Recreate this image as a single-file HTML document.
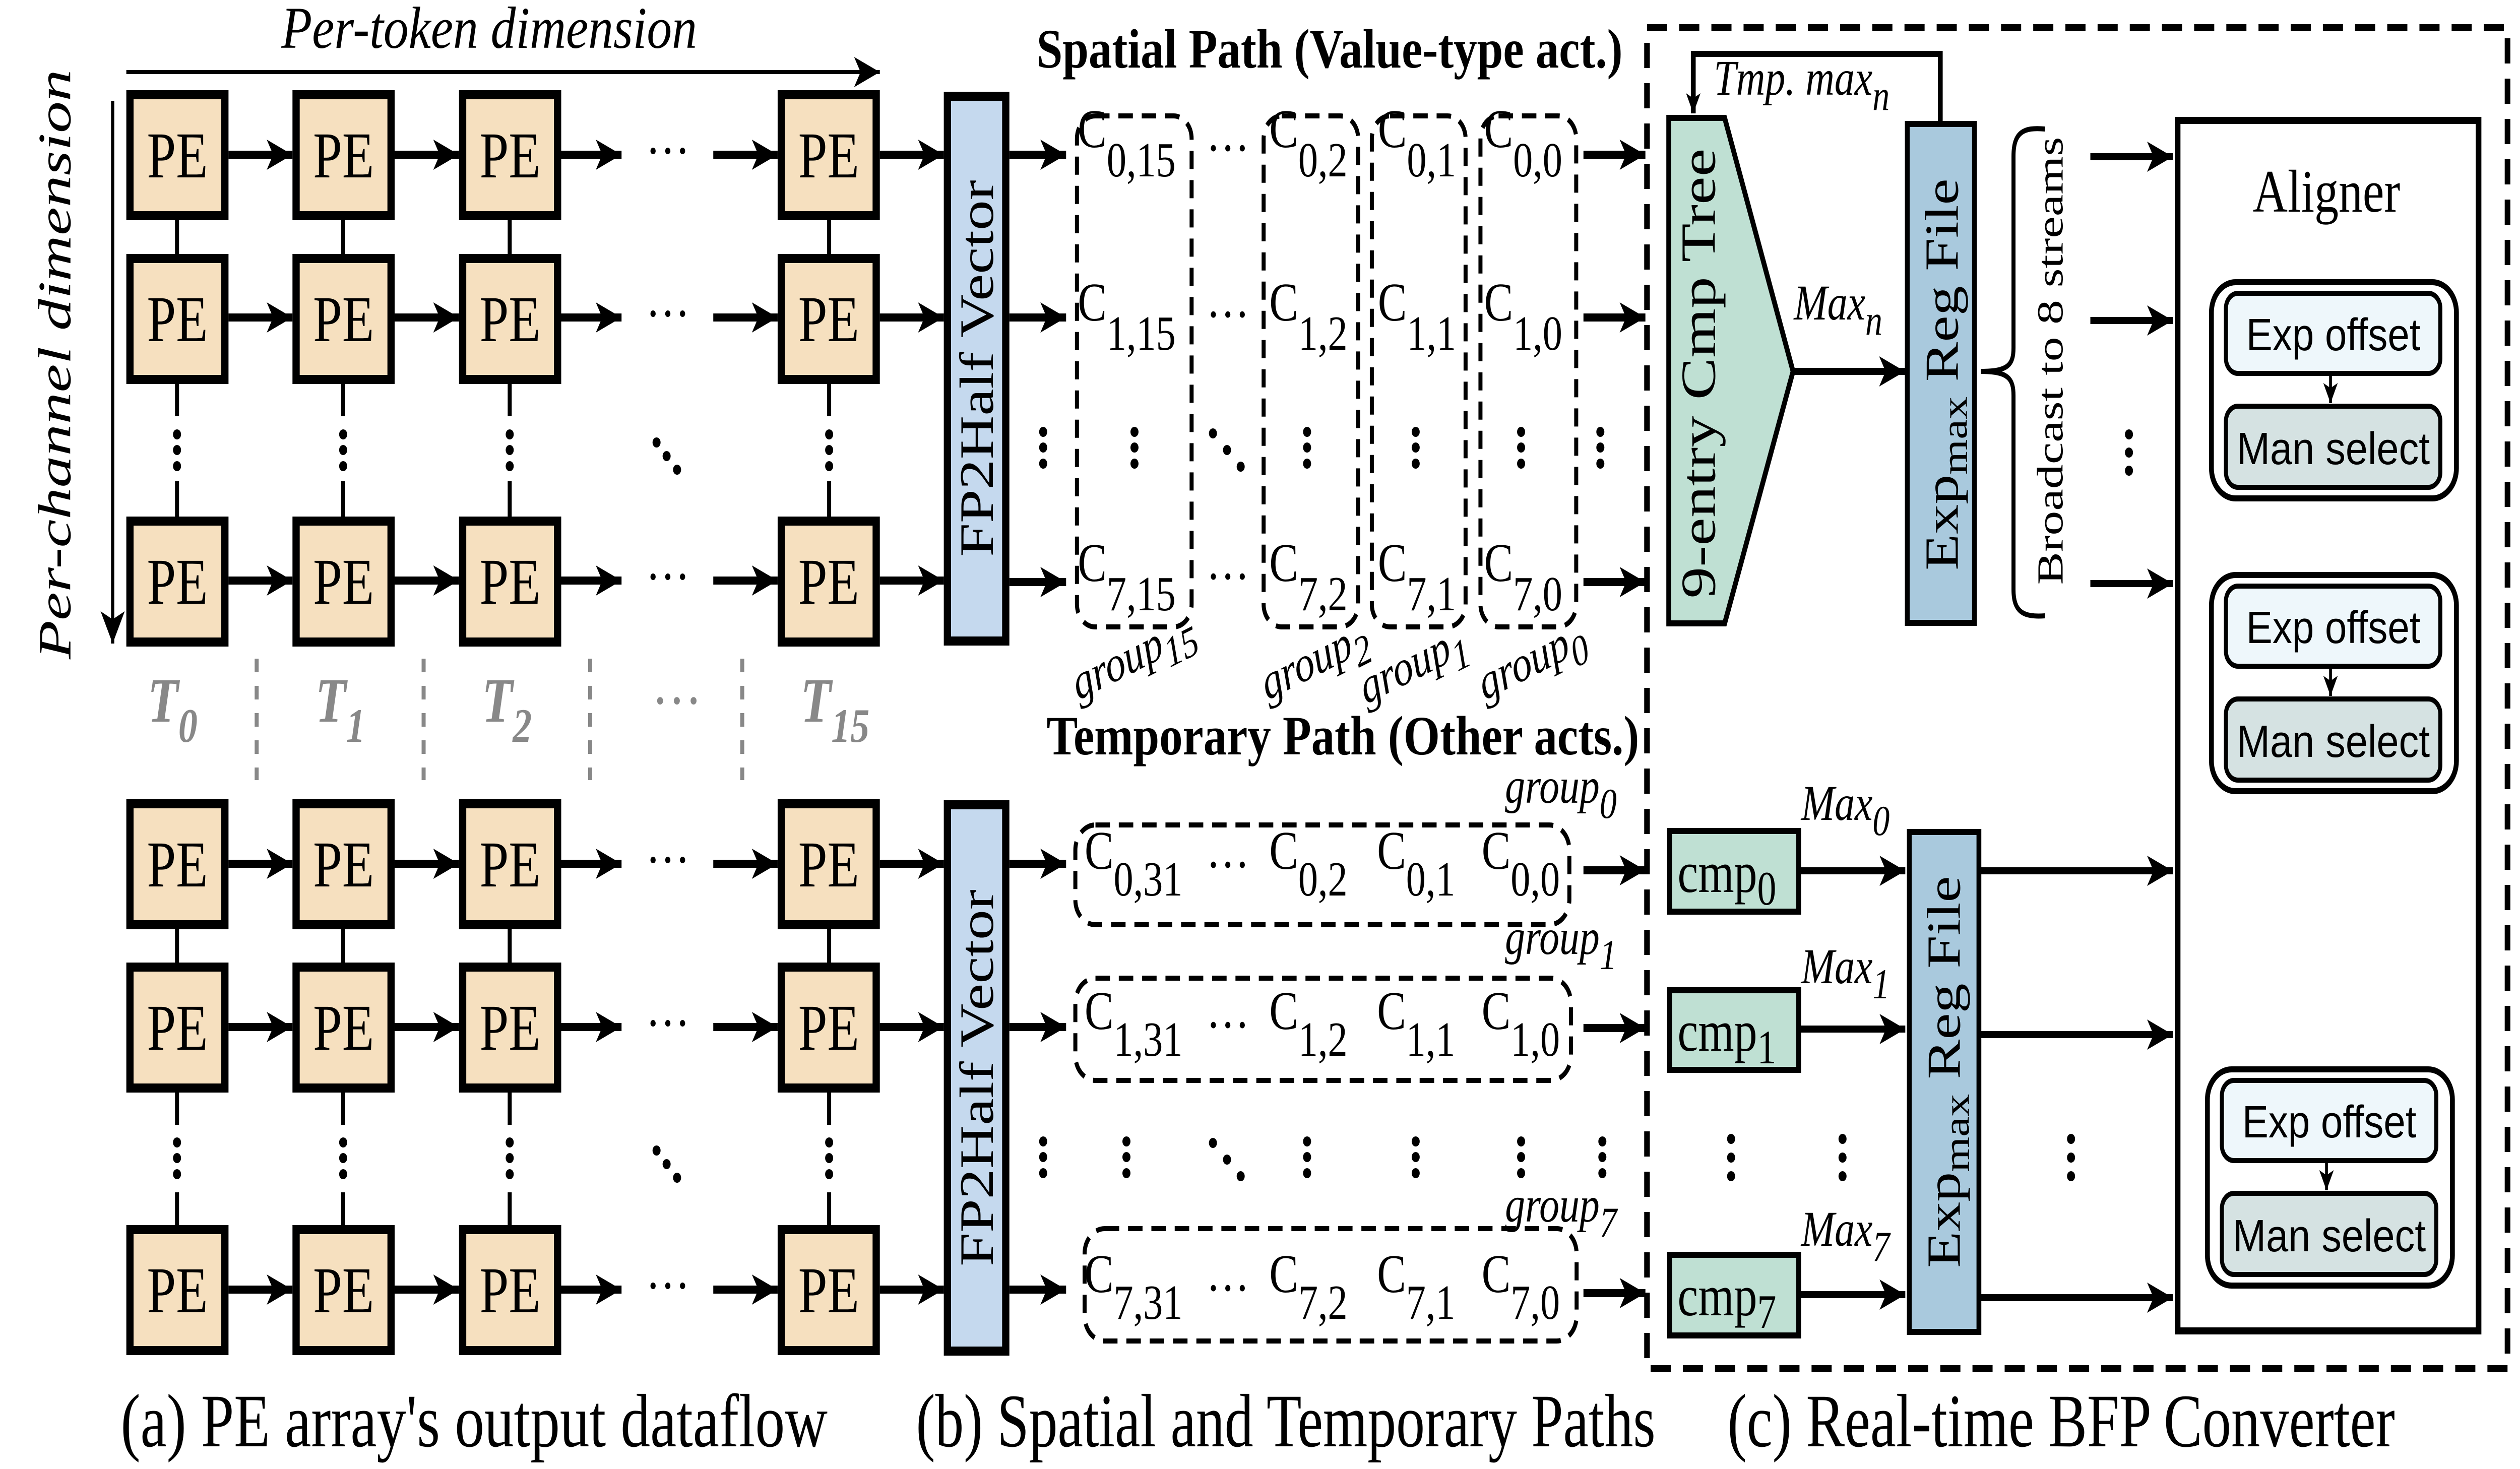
<!DOCTYPE html>
<html><head><meta charset="utf-8"><style>html,body{margin:0;padding:0;background:#fff;overflow:hidden;width:100%;height:100%}svg{display:block;position:fixed;left:0;top:0;width:100vw;height:100vh}text{font-family:"Liberation Serif","Times New Roman",serif}.sans{font-family:"Liberation Sans",Arial,sans-serif}</style></head><body>
<svg xmlns="http://www.w3.org/2000/svg" width="6264" height="2915" viewBox="0 0 6264 2915" preserveAspectRatio="none">
<defs>
<marker id="a" markerUnits="userSpaceOnUse" markerWidth="80" markerHeight="80" refX="64" refY="32" orient="auto"><path d="M0,2 L64,32 L0,62 L16,32z" fill="#000"/></marker>
<marker id="s" markerUnits="userSpaceOnUse" markerWidth="50" markerHeight="50" refX="40" refY="20" orient="auto"><path d="M0,2 L40,20 L0,38 L10,20z" fill="#000"/></marker>
<g id="ve"><circle cx="0" cy="862" r="10"/><circle cx="0" cy="893" r="10"/><circle cx="0" cy="925" r="10"/></g>
</defs>
<rect width="6264" height="2915" fill="#fff"/>

<text x="1216" y="95" font-size="118" font-style="italic" text-anchor="middle" textLength="1033" lengthAdjust="spacingAndGlyphs">Per-token dimension</text>
<line x1="314" y1="143" x2="2187" y2="143" stroke="#000" stroke-width="8" marker-end="url(#a)"/>
<text transform="translate(175,723) rotate(-90)" font-size="115" font-style="italic" text-anchor="middle" textLength="1170" lengthAdjust="spacingAndGlyphs">Per-channel dimension</text>
<line x1="280" y1="200" x2="280" y2="1277" stroke="#000" stroke-width="8" marker-end="url(#a)"/>

<g stroke="#000" stroke-width="10">
<path d="M440,436V505M853,436V505M1267,436V505M2061,436V505 M440,761V826M853,761V826M1267,761V826M2061,761V826 M440,955V1025M853,955V1025M1267,955V1025M2061,955V1025"/>
<path d="M440,1843V1910M853,1843V1910M1267,1843V1910M2061,1843V1910 M440,2167V2232M853,2167V2232M1267,2167V2232M2061,2167V2232 M440,2366V2431M853,2366V2431M1267,2366V2431M2061,2366V2431"/>
</g>
<g fill="#000">
<use href="#ve" x="440"/><use href="#ve" x="853"/><use href="#ve" x="1267"/><use href="#ve" x="2061"/>
<use href="#ve" x="440" y="1405"/><use href="#ve" x="853" y="1405"/><use href="#ve" x="1267" y="1405"/><use href="#ve" x="2061" y="1405"/>
<circle cx="1632" cy="878" r="10"/><circle cx="1657" cy="905" r="10"/><circle cx="1683" cy="932" r="10"/>
<circle cx="1632" cy="2283" r="10"/><circle cx="1657" cy="2310" r="10"/><circle cx="1683" cy="2337" r="10"/>
</g>

<g fill="#f6e0bf" stroke="#000" stroke-width="18">
<rect x="323" y="188" width="236" height="240"/><rect x="736" y="188" width="236" height="240"/><rect x="1150" y="188" width="236" height="240"/><rect x="1942" y="188" width="236" height="240"/>
<rect x="323" y="513" width="236" height="240"/><rect x="736" y="513" width="236" height="240"/><rect x="1150" y="513" width="236" height="240"/><rect x="1942" y="513" width="236" height="240"/>
<rect x="323" y="1034" width="236" height="240"/><rect x="736" y="1034" width="236" height="240"/><rect x="1150" y="1034" width="236" height="240"/><rect x="1942" y="1034" width="236" height="240"/>
<rect x="323" y="1595" width="236" height="240"/><rect x="736" y="1595" width="236" height="240"/><rect x="1150" y="1595" width="236" height="240"/><rect x="1942" y="1595" width="236" height="240"/>
<rect x="323" y="1919" width="236" height="240"/><rect x="736" y="1919" width="236" height="240"/><rect x="1150" y="1919" width="236" height="240"/><rect x="1942" y="1919" width="236" height="240"/>
<rect x="323" y="2440" width="236" height="240"/><rect x="736" y="2440" width="236" height="240"/><rect x="1150" y="2440" width="236" height="240"/><rect x="1942" y="2440" width="236" height="240"/>
</g>
<g font-size="130" text-anchor="middle">
<text x="441" y="352">PE</text><text x="854" y="352">PE</text><text x="1268" y="352">PE</text><text x="2060" y="352">PE</text>
<text x="441" y="677">PE</text><text x="854" y="677">PE</text><text x="1268" y="677">PE</text><text x="2060" y="677">PE</text>
<text x="441" y="1198">PE</text><text x="854" y="1198">PE</text><text x="1268" y="1198">PE</text><text x="2060" y="1198">PE</text>
<text x="441" y="1759">PE</text><text x="854" y="1759">PE</text><text x="1268" y="1759">PE</text><text x="2060" y="1759">PE</text>
<text x="441" y="2083">PE</text><text x="854" y="2083">PE</text><text x="1268" y="2083">PE</text><text x="2060" y="2083">PE</text>
<text x="441" y="2604">PE</text><text x="854" y="2604">PE</text><text x="1268" y="2604">PE</text><text x="2060" y="2604">PE</text>
</g>
<g stroke="#000" stroke-width="16" marker-end="url(#a)">
<path d="M568,307H727"/><path d="M981,307H1141"/><path d="M1395,307H1545"/><path d="M1773,307H1933"/><path d="M2187,307H2346"/>
<path d="M568,630H727"/><path d="M981,630H1141"/><path d="M1395,630H1545"/><path d="M1773,630H1933"/><path d="M2187,630H2346"/>
<path d="M568,1152H727"/><path d="M981,1152H1141"/><path d="M1395,1152H1545"/><path d="M1773,1152H1933"/><path d="M2187,1152H2346"/>
<path d="M568,1714H727"/><path d="M981,1714H1141"/><path d="M1395,1714H1545"/><path d="M1773,1714H1933"/><path d="M2187,1714H2346"/>
<path d="M568,2038H727"/><path d="M981,2038H1141"/><path d="M1395,2038H1545"/><path d="M1773,2038H1933"/><path d="M2187,2038H2346"/>
<path d="M568,2559H727"/><path d="M981,2559H1141"/><path d="M1395,2559H1545"/><path d="M1773,2559H1933"/><path d="M2187,2559H2346"/>
</g>
<g font-size="110" text-anchor="middle">
<text x="1660" y="336">···</text><text x="1660" y="659">···</text><text x="1660" y="1181">···</text>
<text x="1660" y="1743">···</text><text x="1660" y="2067">···</text><text x="1660" y="2588">···</text>
</g>
<g stroke="#888" stroke-width="10" stroke-dasharray="27 27"><path d="M638,1307V1548M1053,1307V1548M1467,1307V1548M1845,1307V1548"/></g>
<g fill="#888" font-size="125" font-style="italic" font-weight="bold">
<text x="367" y="1432">T<tspan font-size="95" dy="40">0</tspan></text>
<text x="784" y="1432">T<tspan font-size="95" dy="40">1</tspan></text>
<text x="1198" y="1432">T<tspan font-size="95" dy="40">2</tspan></text>
<text x="1620" y="1432" font-style="normal" font-weight="normal">···</text>
<text x="1990" y="1432">T<tspan font-size="95" dy="40">15</tspan></text>
</g>

<g fill="#c5d9ee" stroke="#000" stroke-width="18">
<rect x="2355" y="191" width="145" height="1081"/>
<rect x="2355" y="1597" width="145" height="1084"/>
</g>
<text transform="translate(2428,731) rotate(-90)" font-size="120" text-anchor="middle" dominant-baseline="central">FP2Half Vector</text>
<text transform="translate(2428,2139) rotate(-90)" font-size="120" text-anchor="middle" dominant-baseline="central">FP2Half Vector</text>
<g stroke="#000" stroke-width="16" marker-end="url(#a)">
<path d="M2509,307H2650"/><path d="M2509,630H2650"/><path d="M2509,1155H2650"/>
<path d="M2509,1714H2650"/><path d="M2509,2038H2650"/><path d="M2509,2559H2650"/>
<path d="M3936,307H4090"/><path d="M3936,630H4090"/><path d="M3936,1155H4090"/>
<path d="M3936,1727H4090"/><path d="M3936,2040H4090"/><path d="M3936,2566H4090"/>
</g>
<text x="3305" y="134" font-size="110" font-weight="bold" text-anchor="middle" textLength="1457" lengthAdjust="spacingAndGlyphs">Spatial Path (Value-type act.)</text>
<text x="3338" y="1497" font-size="110" font-weight="bold" text-anchor="middle" textLength="1473" lengthAdjust="spacingAndGlyphs">Temporary Path (Other acts.)</text>
<g fill="none" stroke="#000" stroke-width="10" stroke-dasharray="36 22">
<rect x="2677" y="230" width="285" height="1014" rx="45"/>
<rect x="3141" y="230" width="235" height="1014" rx="45"/>
<rect x="3410" y="230" width="233" height="1014" rx="45"/>
<rect x="3680" y="230" width="238" height="1014" rx="45"/>
<rect x="2673" y="1637" width="1228" height="198" rx="50"/>
<rect x="2673" y="1941" width="1232" height="203" rx="50"/>
<rect x="2696" y="2438" width="1223" height="223" rx="50"/>
</g>
<g font-size="108">
<text x="2679" y="292">C<tspan font-size="98" dy="58">0,15</tspan></text>
<text x="3155" y="292">C<tspan font-size="98" dy="58">0,2</tspan></text>
<text x="3425" y="292">C<tspan font-size="98" dy="58">0,1</tspan></text>
<text x="3689" y="292">C<tspan font-size="98" dy="58">0,0</tspan></text>
<text x="2679" y="636">C<tspan font-size="98" dy="58">1,15</tspan></text>
<text x="3155" y="636">C<tspan font-size="98" dy="58">1,2</tspan></text>
<text x="3425" y="636">C<tspan font-size="98" dy="58">1,1</tspan></text>
<text x="3689" y="636">C<tspan font-size="98" dy="58">1,0</tspan></text>
<text x="2679" y="1153">C<tspan font-size="98" dy="58">7,15</tspan></text>
<text x="3155" y="1153">C<tspan font-size="98" dy="58">7,2</tspan></text>
<text x="3425" y="1153">C<tspan font-size="98" dy="58">7,1</tspan></text>
<text x="3689" y="1153">C<tspan font-size="98" dy="58">7,0</tspan></text>
<text x="3052" y="330" text-anchor="middle">···</text><text x="3052" y="660" text-anchor="middle">···</text><text x="3052" y="1180" text-anchor="middle">···</text>
<text x="2696" y="1724">C<tspan font-size="98" dy="53">0,31</tspan></text>
<text x="3155" y="1724">C<tspan font-size="98" dy="53">0,2</tspan></text>
<text x="3423" y="1724">C<tspan font-size="98" dy="53">0,1</tspan></text>
<text x="3683" y="1724">C<tspan font-size="98" dy="53">0,0</tspan></text>
<text x="2696" y="2042">C<tspan font-size="98" dy="53">1,31</tspan></text>
<text x="3155" y="2042">C<tspan font-size="98" dy="53">1,2</tspan></text>
<text x="3423" y="2042">C<tspan font-size="98" dy="53">1,1</tspan></text>
<text x="3683" y="2042">C<tspan font-size="98" dy="53">1,0</tspan></text>
<text x="2696" y="2564">C<tspan font-size="98" dy="53">7,31</tspan></text>
<text x="3155" y="2564">C<tspan font-size="98" dy="53">7,2</tspan></text>
<text x="3423" y="2564">C<tspan font-size="98" dy="53">7,1</tspan></text>
<text x="3683" y="2564">C<tspan font-size="98" dy="53">7,0</tspan></text>
<text x="3052" y="1752" text-anchor="middle">···</text><text x="3052" y="2070" text-anchor="middle">···</text><text x="3052" y="2592" text-anchor="middle">···</text>
</g>
<g fill="#000">
<use href="#ve" x="2593" y="-5"/><use href="#ve" x="2820" y="-5"/><use href="#ve" x="3249" y="-5"/><use href="#ve" x="3519" y="-5"/><use href="#ve" x="3781" y="-5"/><use href="#ve" x="3978" y="-5"/>
<circle cx="3015" cy="860" r="10"/><circle cx="3050" cy="893" r="10"/><circle cx="3084" cy="926" r="10"/>
<use href="#ve" x="2593" y="1403"/><use href="#ve" x="2800" y="1403"/><use href="#ve" x="3249" y="1403"/><use href="#ve" x="3519" y="1403"/><use href="#ve" x="3781" y="1403"/><use href="#ve" x="3983" y="1403"/>
<circle cx="3015" cy="2268" r="10"/><circle cx="3050" cy="2301" r="10"/><circle cx="3084" cy="2334" r="10"/>
</g>
<g font-size="100" font-style="italic">
<text transform="translate(2680,1390) rotate(-22)">group<tspan font-size="85" dy="25">15</tspan></text>
<text transform="translate(3150,1390) rotate(-22)">group<tspan font-size="85" dy="25">2</tspan></text>
<text transform="translate(3395,1398) rotate(-22)">group<tspan font-size="85" dy="25">1</tspan></text>
<text transform="translate(3690,1390) rotate(-22)">group<tspan font-size="85" dy="25">0</tspan></text>
<text x="3741" y="1593">group<tspan font-size="85" dy="30">0</tspan></text>
<text x="3741" y="1893">group<tspan font-size="85" dy="30">1</tspan></text>
<text x="3741" y="2424">group<tspan font-size="85" dy="30">7</tspan></text>
</g>

<rect x="4094" y="55" width="2139" height="2661" fill="none" stroke="#000" stroke-width="14" stroke-dasharray="50 30"/>
<path d="M4148,234 H4287 L4457,737 L4287,1237 H4148 Z" fill="#bfe0d3" stroke="#000" stroke-width="12"/>
<text transform="translate(4222,741) rotate(-90)" font-size="122" text-anchor="middle" dominant-baseline="central" textLength="893" lengthAdjust="spacingAndGlyphs">9-entry Cmp Tree</text>
<rect x="4741" y="246" width="167" height="990" fill="#a9c9dd" stroke="#000" stroke-width="12"/>
<text transform="translate(4828,743) rotate(-90)" font-size="118" text-anchor="middle" dominant-baseline="central">Exp<tspan font-size="90" dy="30">max</tspan><tspan dy="-30"> Reg File</tspan></text>
<path d="M4823,246 V107 H4209 V225" fill="none" stroke="#000" stroke-width="12" marker-end="url(#s)"/>
<text x="4260" y="188" font-size="100" font-style="italic">Tmp. max<tspan font-size="85" dy="30">n</tspan></text>
<line x1="4459" y1="737" x2="4735" y2="737" stroke="#000" stroke-width="14" marker-end="url(#a)"/>
<text x="4459" y="634" font-size="100" font-style="italic">Max<tspan font-size="85" dy="30">n</tspan></text>
<path d="M5083,256 C5030,252 5005,262 5005,310 V690 C5005,725 4990,737 4924,737 C4990,737 5005,750 5005,785 V1170 C5005,1215 5030,1225 5083,1222" fill="none" stroke="#000" stroke-width="10"/>
<text transform="translate(5097,716) rotate(-90)" font-size="92" text-anchor="middle" dominant-baseline="central" textLength="889" lengthAdjust="spacingAndGlyphs">Broadcast to 8 streams</text>
<g stroke="#000" stroke-width="14" marker-end="url(#a)">
<path d="M5196,311H5401"/><path d="M5196,636H5401"/><path d="M5196,1158H5401"/>
<path d="M4474,1728H4736"/><path d="M4474,2042H4736"/><path d="M4474,2569H4736"/>
<path d="M4924,1728H5401"/><path d="M4924,2053H5401"/><path d="M4924,2575H5401"/>
</g>
<g fill="#000"><circle cx="5292" cy="862" r="10"/><circle cx="5292" cy="898" r="10"/><circle cx="5292" cy="934" r="10"/>
<circle cx="4303" cy="2260" r="10"/><circle cx="4303" cy="2297" r="10"/><circle cx="4303" cy="2334" r="10"/>
<circle cx="4580" cy="2260" r="10"/><circle cx="4580" cy="2297" r="10"/><circle cx="4580" cy="2334" r="10"/>
<circle cx="5148" cy="2260" r="10"/><circle cx="5148" cy="2297" r="10"/><circle cx="5148" cy="2334" r="10"/>
<circle cx="5801" cy="1772" r="10"/><circle cx="5801" cy="1842" r="10"/><circle cx="5801" cy="1912" r="10"/></g>
<text x="5921" y="1926" font-size="105">×</text><text x="5985" y="1926" font-size="125" font-weight="bold" font-style="italic">8</text>
<g fill="#bfe0d3" stroke="#000" stroke-width="12">
<rect x="4150" y="1649" width="321" height="160"/><rect x="4150" y="1965" width="321" height="158"/><rect x="4150" y="2490" width="321" height="160"/>
</g>
<g font-size="115">
<text x="4170" y="1770">cmp<tspan font-size="95" dy="25">0</tspan></text>
<text x="4170" y="2085">cmp<tspan font-size="95" dy="25">1</tspan></text>
<text x="4170" y="2610">cmp<tspan font-size="95" dy="25">7</tspan></text>
</g>
<g font-size="100" font-style="italic">
<text x="4477" y="1627">Max<tspan font-size="85" dy="30">0</tspan></text>
<text x="4477" y="1951">Max<tspan font-size="85" dy="30">1</tspan></text>
<text x="4477" y="2472">Max<tspan font-size="85" dy="30">7</tspan></text>
</g>
<rect x="4746" y="1651" width="173" height="992" fill="#a9c9dd" stroke="#000" stroke-width="12"/>
<text transform="translate(4833,2127) rotate(-90)" font-size="118" text-anchor="middle" dominant-baseline="central">Exp<tspan font-size="90" dy="30">max</tspan><tspan dy="-30"> Reg File</tspan></text>

<rect x="5413" y="239" width="748" height="2402" fill="#fff" stroke="#000" stroke-width="14"/>
<text x="5783" y="420" font-size="120" text-anchor="middle">Aligner</text>
<g id="al">
<rect x="5497" y="560" width="609" height="429" rx="60" fill="#fff" stroke="#000" stroke-width="12"/>
<rect x="5533" y="582" width="533" height="159" rx="30" fill="#eef7fb" stroke="#000" stroke-width="10"/>
<rect x="5533" y="806" width="533" height="161" rx="30" fill="#d5e2e2" stroke="#000" stroke-width="10"/>
<line x1="5793" y1="741" x2="5793" y2="800" stroke="#000" stroke-width="7" marker-end="url(#s)"/>
<text class="sans" x="5800" y="695" font-size="90" text-anchor="middle" textLength="433" lengthAdjust="spacingAndGlyphs">Exp offset</text>
<text class="sans" x="5800" y="921" font-size="90" text-anchor="middle" textLength="480" lengthAdjust="spacingAndGlyphs">Man select</text>
</g>
<use href="#al" y="581"/>
<use href="#al" x="-10" y="1562"/>

<g font-size="150">
<text x="300" y="2870" textLength="1757" lengthAdjust="spacingAndGlyphs">(a) PE array's output dataflow</text>
<text x="2277" y="2870" textLength="1838" lengthAdjust="spacingAndGlyphs">(b) Spatial and Temporary Paths</text>
<text x="4294" y="2870" textLength="1659" lengthAdjust="spacingAndGlyphs">(c) Real-time BFP Converter</text>
</g>
</svg>
</body></html>
